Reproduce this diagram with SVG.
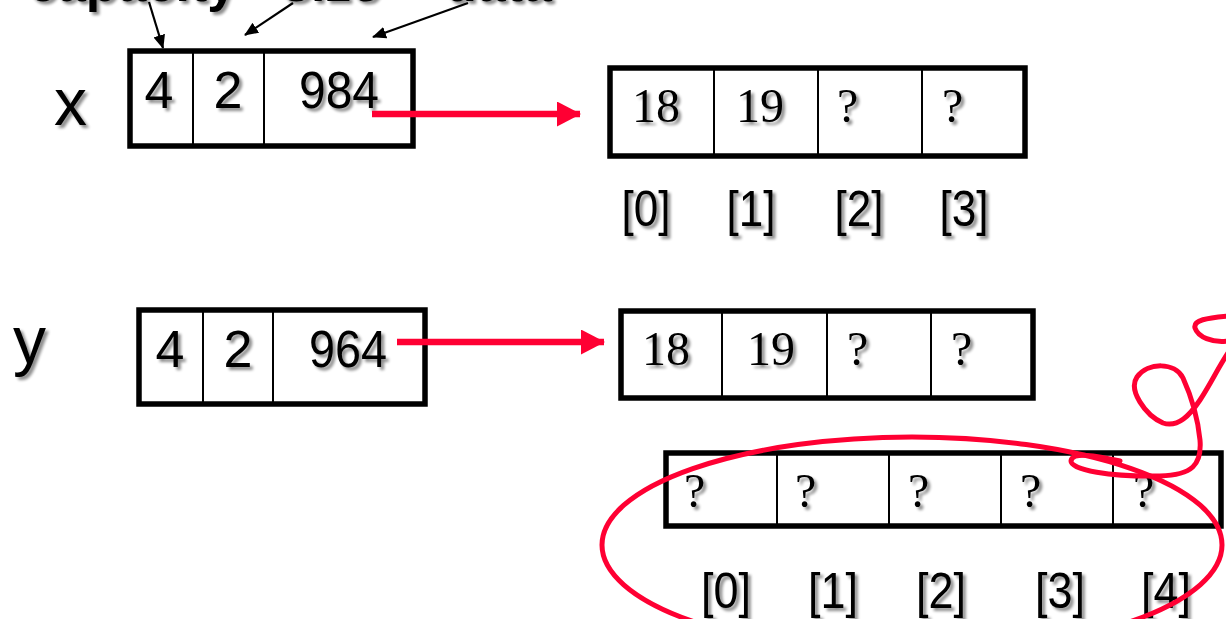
<svg xmlns="http://www.w3.org/2000/svg" width="1226" height="619" viewBox="0 0 1226 619">
  <defs>
    <filter id="shadow" x="-20%" y="-20%" width="150%" height="160%">
      <feGaussianBlur in="SourceAlpha" stdDeviation="1.6"/>
      <feOffset dx="2.5" dy="2.5" result="blur"/>
      <feComponentTransfer><feFuncA type="linear" slope="0.45"/></feComponentTransfer>
      <feMerge><feMergeNode/><feMergeNode in="SourceGraphic"/></feMerge>
    </filter>
    <marker id="blackhead" viewBox="0 0 14 12" refX="13" refY="6" markerWidth="14" markerHeight="12" markerUnits="userSpaceOnUse" orient="auto">
      <path d="M0,0 L14,6 L0,12 Z" fill="#000"/>
    </marker>
    <marker id="redhead" viewBox="0 0 24 25" refX="23" refY="12.5" markerWidth="24" markerHeight="25" markerUnits="userSpaceOnUse" orient="auto">
      <path d="M0,0 L24,12.5 L0,25 Z" fill="#ff0033"/>
    </marker>
  </defs>
  <style>
    .frame { fill: #fff; stroke: #000; stroke-width: 5.5; }
    .div { stroke: #000; stroke-width: 2; }
    .sans { font-family: "Liberation Sans", Arial, sans-serif; fill: #000; filter: url(#shadow); }
    .serif { font-family: "Liberation Serif", "Times New Roman", serif; fill: #000; font-size: 48px; filter: url(#shadow); }
    .field { font-size: 52px; text-anchor: middle; }
    .idx { font-size: 50px; text-anchor: middle; }
    .var { font-size: 66px; }
    .caption { font-size: 52px; font-weight: bold; }
    .ptr { stroke: #ff0033; stroke-width: 6.5; fill: none; }
    .ink { stroke: #ff0033; stroke-width: 5; fill: none; stroke-linecap: round; stroke-linejoin: round; }
    .callout { stroke: #000; stroke-width: 2.2; fill: none; }
  </style>

  <rect width="1226" height="619" fill="#fff"/>

  <!-- field captions running off the top edge -->
  <g id="captions">
    <text class="sans caption" x="28" y="1">capacity</text>
    <text class="sans caption" x="282" y="1">size</text>
    <text class="sans caption" x="445" y="1">data</text>
  </g>

  <!-- vector header x -->
  <g id="x">
    <text class="sans var" x="54" y="125">x</text>
    <rect class="frame" x="130" y="51" width="283" height="95"/>
    <line class="div" x1="193" y1="51" x2="193" y2="146"/>
    <line class="div" x1="264" y1="51" x2="264" y2="146"/>
    <text class="sans field" x="159" y="108">4</text>
    <text class="sans field" x="228" y="108">2</text>
    <text class="sans field" x="339" y="108" textLength="80" lengthAdjust="spacingAndGlyphs">984</text>
  </g>

  <!-- heap array referenced by x -->
  <g id="x-array">
    <rect class="frame" x="610" y="68" width="415" height="88"/>
    <line class="div" x1="714" y1="68" x2="714" y2="156"/>
    <line class="div" x1="818" y1="68" x2="818" y2="156"/>
    <line class="div" x1="922" y1="68" x2="922" y2="156"/>
    <text class="serif" x="632" y="122">18</text>
    <text class="serif" x="736" y="122">19</text>
    <text class="serif" x="837" y="122">?</text>
    <text class="serif" x="942" y="122">?</text>
    <text class="sans idx" x="646" y="226" textLength="49" lengthAdjust="spacingAndGlyphs">[0]</text>
    <text class="sans idx" x="751" y="226" textLength="49" lengthAdjust="spacingAndGlyphs">[1]</text>
    <text class="sans idx" x="859" y="226" textLength="49" lengthAdjust="spacingAndGlyphs">[2]</text>
    <text class="sans idx" x="964" y="226" textLength="49" lengthAdjust="spacingAndGlyphs">[3]</text>
  </g>

  <!-- vector header y -->
  <g id="y">
    <text class="sans var" x="13" y="363">y</text>
    <rect class="frame" x="139" y="310" width="286" height="94"/>
    <line class="div" x1="203" y1="310" x2="203" y2="404"/>
    <line class="div" x1="273" y1="310" x2="273" y2="404"/>
    <text class="sans field" x="170" y="367">4</text>
    <text class="sans field" x="238" y="367">2</text>
    <text class="sans field" x="348" y="367" textLength="78" lengthAdjust="spacingAndGlyphs">964</text>
  </g>

  <!-- heap array referenced by y -->
  <g id="y-array">
    <rect class="frame" x="621" y="311" width="412" height="87"/>
    <line class="div" x1="722" y1="311" x2="722" y2="398"/>
    <line class="div" x1="827" y1="311" x2="827" y2="398"/>
    <line class="div" x1="931" y1="311" x2="931" y2="398"/>
    <text class="serif" x="642" y="365">18</text>
    <text class="serif" x="747" y="365">19</text>
    <text class="serif" x="847" y="365">?</text>
    <text class="serif" x="951" y="365">?</text>
  </g>

  <!-- newly allocated larger array -->
  <g id="new-array">
    <rect class="frame" x="666" y="453" width="555" height="73"/>
    <line class="div" x1="777" y1="453" x2="777" y2="526"/>
    <line class="div" x1="889" y1="453" x2="889" y2="526"/>
    <line class="div" x1="1001" y1="453" x2="1001" y2="526"/>
    <line class="div" x1="1113" y1="453" x2="1113" y2="526"/>
    <text class="serif" x="684" y="507">?</text>
    <text class="serif" x="795" y="507">?</text>
    <text class="serif" x="908" y="507">?</text>
    <text class="serif" x="1020" y="507">?</text>
    <text class="serif" x="1133" y="507">?</text>
    <text class="sans idx" x="726" y="608" textLength="50" lengthAdjust="spacingAndGlyphs">[0]</text>
    <text class="sans idx" x="833" y="608" textLength="50" lengthAdjust="spacingAndGlyphs">[1]</text>
    <text class="sans idx" x="941" y="608" textLength="50" lengthAdjust="spacingAndGlyphs">[2]</text>
    <text class="sans idx" x="1060" y="608" textLength="50" lengthAdjust="spacingAndGlyphs">[3]</text>
    <text class="sans idx" x="1166" y="608" textLength="50" lengthAdjust="spacingAndGlyphs">[4]</text>
  </g>

  <!-- connectors: caption callouts and data pointers -->
  <g id="connectors">
    <line class="callout" x1="149" y1="2" x2="163" y2="48" marker-end="url(#blackhead)"/>
    <line class="callout" x1="293" y1="3" x2="245" y2="35" marker-end="url(#blackhead)"/>
    <line class="callout" x1="468" y1="3" x2="373" y2="37" marker-end="url(#blackhead)"/>
    <line class="ptr" x1="372" y1="114" x2="580" y2="114" marker-end="url(#redhead)"/>
    <line class="ptr" x1="397" y1="342" x2="604" y2="342" marker-end="url(#redhead)"/>
  </g>

  <!-- hand-drawn red annotation -->
  <g id="annotation">
    <ellipse class="ink" cx="912" cy="545" rx="310" ry="108"/>
    <path class="ink" d="M1120,461 C1095,455 1072,452 1071,461 C1071,470 1110,477 1160,476 C1192,475 1202,465 1200,440 C1198,420 1193,400 1183,378 C1175,362 1148,362 1137,377 C1128,390 1145,415 1163,423 C1178,428 1190,415 1200,400 C1210,385 1218,368 1228,353"/>
    <path class="ink" d="M1228,316 C1207,318 1193,320 1195,328 C1198,337 1212,343 1228,341"/>
  </g>
</svg>
